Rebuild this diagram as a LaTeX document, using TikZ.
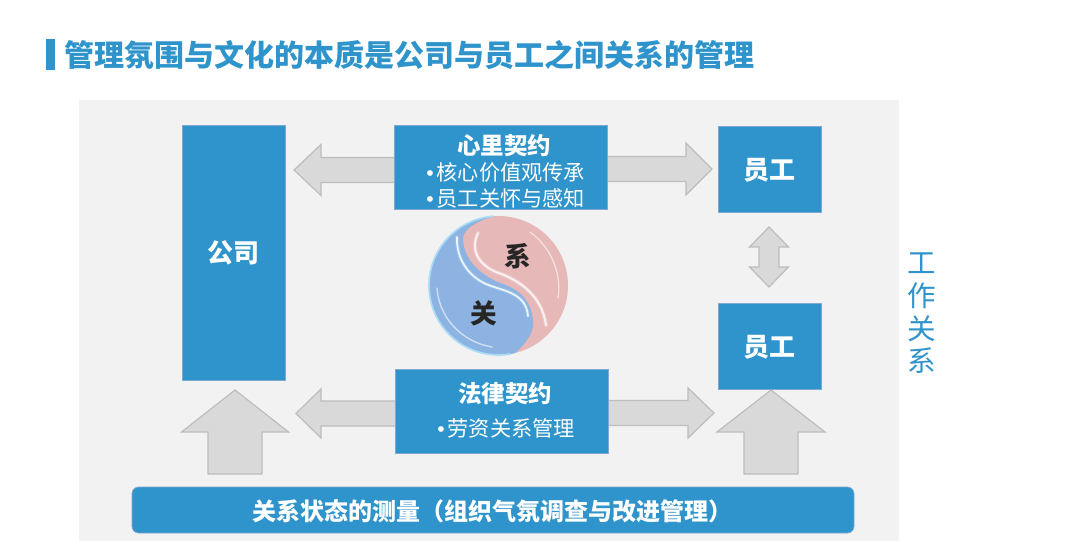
\documentclass[tikz,border=0pt]{standalone}
\usepackage{fontspec}
\setmainfont{Noto Sans CJK SC}
\newfontfamily\bulletfont{Liberation Sans}
\usetikzlibrary{calc}
\definecolor{mainblue}{HTML}{2E94CB}
\definecolor{boxedge}{HTML}{7FA9D2}
\definecolor{panelgrey}{HTML}{F2F2F2}
\definecolor{arrowfill}{HTML}{D9D9D9}
\definecolor{arrowedge}{HTML}{BDBDBD}
\definecolor{yinpink}{HTML}{E6B8B7}
\definecolor{yinblue}{HTML}{8DB3E2}
\definecolor{yinrim}{HTML}{A9DDF6}
\newcommand{\blockarrow}[5]{% from, to, half shaft, half head, head length (px)
  \coordinate (hb) at ($(#2)!#5*0.75pt!(#1)$);
  \draw[blockstyle]
    ($(#1)!#3*0.75pt!90:(#2)$) -- ($(hb)!#3*0.75pt!90:(#2)$) -- ($(hb)!#4*0.75pt!90:(#2)$)
    -- (#2) -- ($(hb)!#4*0.75pt!-90:(#2)$) -- ($(hb)!#3*0.75pt!-90:(#2)$)
    -- ($(#1)!#3*0.75pt!-90:(#2)$) -- cycle;}
\newcommand{\itembullet}{{\bulletfont •}\kern2.2pt}
\tikzset{
  blockstyle/.style={draw=arrowedge,fill=arrowfill,line width=0.9pt,line join=miter},
  bluebox/.style={draw=boxedge,fill=mainblue,line width=0.5pt,text=white,inner sep=0pt,align=center,font=\bfseries},
  headtext/.style={text=white,font=\bfseries\fontsize{17.6}{20}\selectfont,inner sep=0pt},
  itemtext/.style={text=white,font=\fontsize{15.9}{18}\selectfont,inner sep=0pt},
  bigtext/.style={text=white,font=\bfseries\fontsize{19.5}{22}\selectfont,inner sep=0pt},
  yintext/.style={text=black!85,font=\bfseries\fontsize{20}{22}\selectfont,inner sep=0pt},
  sidetext/.style={text=mainblue,font=\fontsize{21.4}{24}\selectfont,inner sep=0pt},
  shine/.style={draw=white,line cap=round,fill=none},
}
\begin{document}
\begin{tikzpicture}[x=0.75pt,y=-0.75pt]
\useasboundingbox (0,0) rectangle (1080,541);
\fill[white] (0,0) rectangle (1080,541);
\fill[panelgrey] (79,100) rectangle (899,541);
% title
\fill[mainblue] (46,39) rectangle (55,70);
\node[anchor=west,text=mainblue,font=\bfseries\fontsize{22.5}{26}\selectfont,inner sep=0pt] (title) at (64,55) {管理氛围与文化的本质是公司与员工之间关系的管理};
% block arrows
\coordinate (tlS) at (400,170); \coordinate (tlT) at (294,170);
\coordinate (trS) at (600,169); \coordinate (trT) at (712,169);
\coordinate (blS) at (400,413.5); \coordinate (blT) at (296,413.5);
\coordinate (brS) at (600,413); \coordinate (brT) at (714,413);
\blockarrow{tlS}{tlT}{12.5}{25.5}{27}
\blockarrow{trS}{trT}{12.5}{26}{26}
\blockarrow{blS}{blT}{12.5}{24.5}{25}
\blockarrow{brS}{brT}{12.5}{25}{26}
\coordinate (ulS) at (235,474); \coordinate (ulT) at (235,390);
\coordinate (urS) at (771,474); \coordinate (urT) at (771,390);
\blockarrow{ulS}{ulT}{27}{53.5}{42}
\blockarrow{urS}{urT}{27}{54}{42}
% double arrow
\coordinate (dT) at (769,227); \coordinate (dB) at (769,287);
\draw[blockstyle] (dT) -- (788.5,247) -- (779,247) -- (779,267) -- (788.5,267) -- (dB)
  -- (749.5,267) -- (759,267) -- (759,247) -- (749.5,247) -- cycle;
% boxes
\node[bluebox,minimum width=103*0.75pt,minimum height=255*0.75pt] (company) at (233.5,252.5) {};
\node[bigtext] (companyt) at (233.5,253) {公司};
\node[bluebox,minimum width=103*0.75pt,minimum height=86*0.75pt] (emp1) at (769.5,169) {};
\node[bigtext] (emp1t) at (769.5,170) {员工};
\node[bluebox,minimum width=103*0.75pt,minimum height=86*0.75pt] (emp2) at (769.5,346) {};
\node[bigtext] (emp2t) at (769.5,347) {员工};
\node[bluebox,minimum width=213*0.75pt,minimum height=84*0.75pt] (psy) at (500.5,167) {};
\node[headtext] (psyh) at (504,146) {心里契约};
\node[itemtext,anchor=west] (psy1) at (426,172) {\itembullet 核心价值观传承};
\node[itemtext,anchor=west] (psy2) at (426,198) {\itembullet 员工关怀与感知};
\node[bluebox,minimum width=213*0.75pt,minimum height=84*0.75pt] (law) at (501.5,411) {};
\node[headtext] (lawh) at (505,394) {法律契约};
\node[itemtext,anchor=west] (law1) at (437,428) {\itembullet 劳资关系管理};
% bottom bar
\node[bluebox,rounded corners=5pt,minimum width=722*0.75pt,minimum height=46*0.75pt] (bar) at (493,510) {};
\node[anchor=west,text=white,font=\bfseries\fontsize{18}{20}\selectfont,inner sep=0pt] (bart) at (252,511) {关系状态的测量（组织气氛调查与改进管理）};
% yin-yang
\coordinate (yy) at (498.5,285.5);
\fill[yinpink] (yy) circle[radius=69.5];
\begin{scope}
\clip (yy) circle[radius=69.5];
% highlights in the pink half
\draw[shine,line width=3pt,opacity=.25] (478,233) .. controls (470,250) and (478,264) .. (496,272)
  .. controls (520,280) and (542,296) .. (546,325);
\draw[shine,line width=1.4pt,opacity=.75] (478,233) .. controls (470,250) and (478,264) .. (496,272)
  .. controls (520,280) and (542,296) .. (546,325);
\draw[shine,line width=.9pt,opacity=.6] (530,232) .. controls (552,248) and (562,275) .. (558,298);
% blue half
\fill[yinblue] (495,210) -- (495,216) .. controls (472,222) and (462,232) .. (463,240)
  .. controls (464,258) and (478,274) .. (500,283)
  .. controls (515,288) and (530,296) .. (533,320)
  .. controls (535,335) and (522,347) .. (508,360)
  -- (420,360) -- (420,210) -- cycle;
% highlights in the blue half
\draw[shine,line width=3pt,opacity=.3,draw=yinrim] (457,237) .. controls (456,258) and (468,276) .. (486,284)
  .. controls (502,291) and (526,292) .. (528,316);
\draw[shine,line width=1.3pt,opacity=.85] (457,237) .. controls (456,258) and (468,276) .. (486,284)
  .. controls (502,291) and (526,292) .. (528,316);
\draw[shine,line width=1pt,opacity=.6] (437,288) .. controls (439,318) and (462,342) .. (492,347);
\end{scope}
\draw[yinrim,line width=1.3pt] (yy) ++(266:69.5) arc[start angle=266,end angle=80,radius=69.5];
\node[yintext] (xi) at (518,256) {系};
\node[yintext] (guan) at (483.5,313) {关};
% side label
\node[sidetext] (s1) at (922,263) {工};
\node[sidetext] (s2) at (922,296) {作};
\node[sidetext] (s3) at (922,329) {关};
\node[sidetext] (s4) at (922,361) {系};
\end{tikzpicture}
\end{document}
